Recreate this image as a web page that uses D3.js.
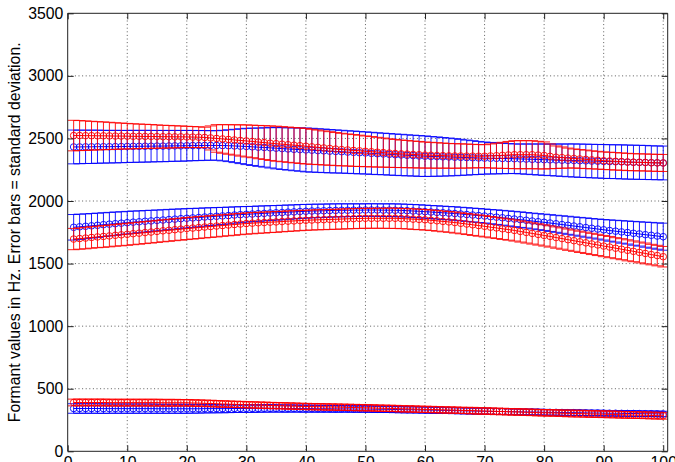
<!DOCTYPE html>
<html>
<head>
<meta charset="utf-8">
<script src="https://cdn.jsdelivr.net/npm/d3@7/dist/d3.min.js"></script>
<style>
  html, body { margin: 0; padding: 0; background: #fff; }
  svg { display: block; }
  text { font-family: "Liberation Sans", Arial, Helvetica, sans-serif; }
</style>
</head>
<body>
<svg id="chart" width="675" height="462"></svg>
<script>
// ---------------- DATA ----------------
const xValues = [1,2,3,4,5,6,7,8,9,10,11,12,13,14,15,16,17,18,19,20,21,22,23,24,25,26,27,28,29,30,31,32,33,34,35,36,37,38,39,40,41,42,43,44,45,46,47,48,49,50,51,52,53,54,55,56,57,58,59,60,61,62,63,64,65,66,67,68,69,70,71,72,73,74,75,76,77,78,79,80,81,82,83,84,85,86,87,88,89,90,91,92,93,94,95,96,97,98,99,100];
const xTicks = [0,10,20,30,40,50,60,70,80,90,100];
const yTicks = [0,500,1000,1500,2000,2500,3000,3500];
const yLabel = "Formant values in Hz. Error bars = standard deviation.";

// F3 blue
const f3BlueMean = [2432,2432,2433,2433,2434,2434,2434,2435,2435,2436,
2437,2437,2438,2438,2439,2439,2440,2441,2441,2442,
2443,2443,2444,2444,2444,2443,2442,2440,2438,2436,
2433,2430,2428,2425,2422,2419,2416,2413,2411,2408,
2406,2403,2401,2398,2396,2394,2391,2389,2386,2384,
2381,2378,2376,2373,2370,2368,2365,2363,2360,2358,
2356,2355,2353,2352,2350,2349,2347,2346,2344,2343,
2342,2341,2340,2339,2338,2336,2335,2333,2332,2330,
2329,2328,2326,2325,2324,2322,2321,2319,2318,2316,
2315,2314,2313,2311,2310,2309,2308,2306,2305,2304];
const f3BlueSd = [135,134,133,133,132,131,130,130,129,128,
128,127,127,126,125,125,124,123,123,122,
121,120,119,118,118,122,127,133,139,145,
149,153,157,161,165,167,169,171,173,175,
175,174,174,173,172,171,170,170,169,168,
168,167,166,166,165,165,164,163,163,162,
159,157,154,151,148,144,140,136,132,128,
126,124,122,120,118,119,121,122,124,125,
126,128,129,131,132,133,133,134,134,135,
135,135,136,136,136,136,136,135,135,135];

// F3 red
const f3RedMean = [2523,2523,2522,2522,2521,2521,2520,2519,2519,2518,
2517,2517,2516,2516,2515,2514,2514,2513,2513,2512,
2511,2510,2508,2504,2500,2496,2492,2488,2484,2480,
2476,2471,2467,2462,2458,2454,2450,2446,2442,2438,
2433,2429,2424,2420,2415,2411,2408,2404,2401,2397,
2394,2390,2387,2383,2380,2377,2375,2372,2370,2367,
2366,2364,2363,2361,2360,2360,2359,2359,2358,2358,
2360,2362,2365,2368,2370,2370,2370,2370,2367,2364,
2357,2350,2347,2343,2340,2336,2333,2329,2326,2322,
2320,2317,2315,2312,2310,2309,2308,2306,2305,2304];
const f3RedSd = [122,120,118,115,113,111,109,106,104,102,
100,98,97,95,93,91,90,88,87,85,
84,83,82,96,110,114,118,121,125,128,
130,133,135,138,140,140,141,141,142,142,
140,138,136,134,132,130,128,127,125,123,
121,119,116,114,112,110,109,107,106,104,
103,102,100,99,98,97,96,94,93,92,
96,100,104,108,112,112,112,112,110,108,
99,90,85,80,76,75,74,72,71,70,
70,70,69,69,68,68,68,68,68,68];

// F2 blue
const f2BlueMean = [1790,1794,1798,1802,1806,1811,1815,1819,1823,1827,
1831,1834,1838,1841,1845,1848,1852,1855,1859,1862,
1865,1868,1872,1875,1878,1881,1884,1888,1891,1894,
1896,1899,1901,1904,1906,1908,1911,1913,1916,1918,
1920,1921,1922,1924,1925,1926,1926,1927,1927,1928,
1928,1928,1927,1927,1926,1925,1923,1920,1918,1915,
1912,1909,1906,1903,1900,1896,1892,1888,1884,1880,
1875,1871,1866,1861,1856,1851,1846,1840,1835,1830,
1824,1818,1812,1806,1800,1794,1788,1782,1776,1770,
1764,1759,1753,1748,1742,1737,1731,1726,1720,1715];
const f2BlueSd = [102,101,99,98,97,95,94,93,91,90,
89,87,86,85,83,82,81,80,78,77,
76,74,73,71,70,68,67,65,64,62,
61,61,60,59,58,58,57,56,56,55,
54,54,53,53,52,52,51,51,50,50,
50,50,50,51,51,51,51,52,52,52,
52,53,53,53,54,54,55,55,56,56,
57,58,59,60,61,62,62,63,64,65,
67,68,70,72,73,75,77,78,80,82,
85,87,90,92,95,97,100,103,105,108];

// F2 red
const f2RedMean = [1696,1700,1704,1709,1713,1717,1721,1726,1730,1734,
1739,1743,1748,1752,1757,1762,1766,1771,1775,1780,
1784,1788,1792,1796,1800,1804,1808,1812,1816,1820,
1823,1826,1828,1831,1833,1836,1839,1841,1844,1846,
1848,1850,1851,1853,1854,1856,1858,1859,1861,1862,
1862,1862,1862,1862,1862,1860,1858,1855,1853,1850,
1846,1842,1837,1833,1828,1822,1816,1810,1804,1798,
1791,1785,1778,1772,1765,1757,1749,1741,1733,1725,
1717,1708,1700,1691,1683,1674,1666,1657,1649,1640,
1632,1623,1615,1606,1598,1589,1581,1572,1564,1555];
const f2RedSd = [85,85,86,86,86,87,87,87,88,88,
88,88,88,88,88,88,88,88,88,88,
88,88,87,87,87,86,86,86,85,85,
85,84,84,83,83,82,82,81,81,80,
80,80,80,80,80,80,80,80,80,80,
80,80,80,81,81,81,81,82,82,82,
82,83,83,83,84,84,84,85,85,85,
85,85,85,85,85,85,85,85,85,85,
85,85,85,85,85,85,85,85,85,85,
85,84,84,84,83,83,83,82,82,82];

// F1 blue
const f1BlueMean = [342,342,342,342,342,341,341,341,341,341,
341,341,341,341,340,340,340,340,340,340,
340,340,341,341,341,341,341,342,342,342,
342,342,343,343,343,342,342,342,341,341,
341,340,340,340,339,339,339,338,338,338,
337,336,336,335,334,333,332,332,331,330,
329,328,327,326,325,324,323,322,321,320,
319,318,318,317,316,315,314,314,313,312,
311,311,310,309,309,308,307,306,306,305,
304,304,303,302,302,301,300,300,299,298];
const f1BlueSd = [38,38,38,38,38,38,37,37,37,37,
37,37,37,37,36,36,36,36,36,36,
35,35,34,34,33,33,32,32,31,31,
31,30,30,30,29,29,29,28,28,28,
28,27,27,27,27,26,26,26,26,26,
26,26,26,25,25,25,25,25,25,25,
25,25,24,24,24,24,24,24,24,24,
24,24,24,23,23,23,23,23,23,23,
23,23,23,23,22,22,22,22,22,22,
22,22,22,22,22,22,22,22,22,22];

// F1 red
const f1RedMean = [390,390,390,390,390,390,389,389,389,389,
389,389,389,389,389,388,388,388,388,388,
386,385,383,382,380,378,377,375,374,372,
371,369,368,366,365,364,362,361,359,358,
357,356,355,354,353,352,351,350,349,348,
347,345,344,343,342,340,339,338,336,335,
334,333,331,330,329,327,326,325,323,322,
321,319,318,316,315,314,312,311,309,308,
307,306,304,303,302,301,300,298,297,296,
295,294,292,291,290,289,288,286,285,284];
const f1RedSd = [27,27,27,27,27,27,27,27,27,27,
27,27,27,27,27,27,27,27,26,26,
26,26,26,26,26,26,25,25,25,25,
25,25,25,25,25,25,25,25,25,25,
25,25,25,25,25,25,25,25,25,25,
25,25,25,25,25,25,25,25,25,25,
25,25,25,25,25,25,25,26,26,26,
26,26,26,26,26,26,26,26,26,26,
26,26,26,27,27,27,27,27,27,27,
27,27,27,27,27,27,27,27,27,27];

const seriesList = [
  { name: "F1 blue", mean: f1BlueMean, sd: f1BlueSd, color: "#0000ff" },
  { name: "F2 blue", mean: f2BlueMean, sd: f2BlueSd, color: "#0000ff" },
  { name: "F3 blue", mean: f3BlueMean, sd: f3BlueSd, color: "#0000ff" },
  { name: "F1 red",  mean: f1RedMean,  sd: f1RedSd,  color: "#ff0000" },
  { name: "F2 red",  mean: f2RedMean,  sd: f2RedSd,  color: "#ff0000" },
  { name: "F3 red",  mean: f3RedMean,  sd: f3RedSd,  color: "#ff0000" }
];

// ---------------- LAYOUT ----------------
const W = 675, H = 462;
const L = 67.7, R = 667.7, T = 13.3, B = 451.3;
const fontSize = "15.8px";

const svg = d3.select("#chart");
svg.append("rect").attr("width", W).attr("height", H).attr("fill", "#fff");

const x = d3.scaleLinear().domain([0, 100.75]).range([L, R]);
const y = d3.scaleLinear().domain([0, 3500]).range([B, T]);

// grid
const grid = svg.append("g").attr("class", "grid")
  .attr("stroke", "#333").attr("stroke-width", 0.8).attr("stroke-dasharray", "1,2.6");
grid.selectAll("line.gx").data(xTicks.filter(d => d > 0)).enter().append("line")
  .attr("x1", d => x(d)).attr("x2", d => x(d)).attr("y1", T).attr("y2", B);
grid.selectAll("line.gy").data(yTicks.filter(d => d > 0 && d < 3500)).enter().append("line")
  .attr("x1", L).attr("x2", R).attr("y1", d => y(d)).attr("y2", d => y(d));

// clip
svg.append("clipPath").attr("id", "plotclip").append("rect")
  .attr("x", L).attr("y", T).attr("width", R - L).attr("height", B - T);

const plot = svg.append("g").attr("clip-path", "url(#plotclip)");

const tee = (d3.max(xValues) - d3.min(xValues)) / 100;

seriesList.forEach(s => {
  const g = plot.append("g").attr("class", "series");
  // error bars
  const p = d3.path();
  xValues.forEach((xv, i) => {
    const lo = s.mean[i] - s.sd[i], hi = s.mean[i] + s.sd[i];
    p.moveTo(x(xv), y(lo)); p.lineTo(x(xv), y(hi));
    p.moveTo(x(xv - tee), y(hi)); p.lineTo(x(xv + tee), y(hi));
    p.moveTo(x(xv - tee), y(lo)); p.lineTo(x(xv + tee), y(lo));
  });
  g.append("path").attr("d", p.toString())
    .attr("fill", "none").attr("stroke", s.color).attr("stroke-width", 0.9);
  // mean line
  const line = d3.line().x((d, i) => x(xValues[i])).y(d => y(d));
  g.append("path").attr("d", line(s.mean))
    .attr("fill", "none").attr("stroke", s.color).attr("stroke-width", 1);
  // markers
  g.selectAll("circle").data(s.mean).enter().append("circle")
    .attr("cx", (d, i) => x(xValues[i])).attr("cy", d => y(d)).attr("r", 3.3)
    .attr("fill", "none").attr("stroke", s.color).attr("stroke-width", 0.9);
});

// axes
const axB = svg.append("g").attr("transform", `translate(0,${B})`)
  .call(d3.axisBottom(x).tickValues(xTicks).tickSize(-6).tickPadding(5.2).tickFormat(d3.format("d")));
const axT = svg.append("g").attr("transform", `translate(0,${T})`)
  .call(d3.axisTop(x).tickValues(xTicks).tickSize(-6).tickFormat(""));
const axLft = svg.append("g").attr("transform", `translate(${L},0)`)
  .call(d3.axisLeft(y).tickValues(yTicks).tickSize(-6).tickPadding(4.4).tickFormat(d3.format("d")));
const axRt = svg.append("g").attr("transform", `translate(${R},0)`)
  .call(d3.axisRight(y).tickValues(yTicks).tickSize(-6).tickFormat(""));

[axB, axT, axLft, axRt].forEach(a => {
  a.select(".domain").attr("stroke", "#222").attr("stroke-width", 1);
  a.selectAll(".tick line").attr("stroke", "#222").attr("stroke-width", 1);
  a.selectAll(".tick text").attr("fill", "#000").style("font-size", fontSize)
    .style("font-family", '"Liberation Sans", Arial, Helvetica, sans-serif');
});
[axB, axT].forEach(a => a.select(".domain").attr("d", `M${L},0H${R}`));
[axLft, axRt].forEach(a => a.select(".domain").attr("d", `M0,${T}V${B}`));

// y label
svg.append("text")
  .attr("transform", `translate(19.5,${(T + B) / 2}) rotate(-90)`)
  .attr("text-anchor", "middle")
  .style("font-size", fontSize)
  .attr("fill", "#000")
  .text(yLabel);
</script>
</body>
</html>
